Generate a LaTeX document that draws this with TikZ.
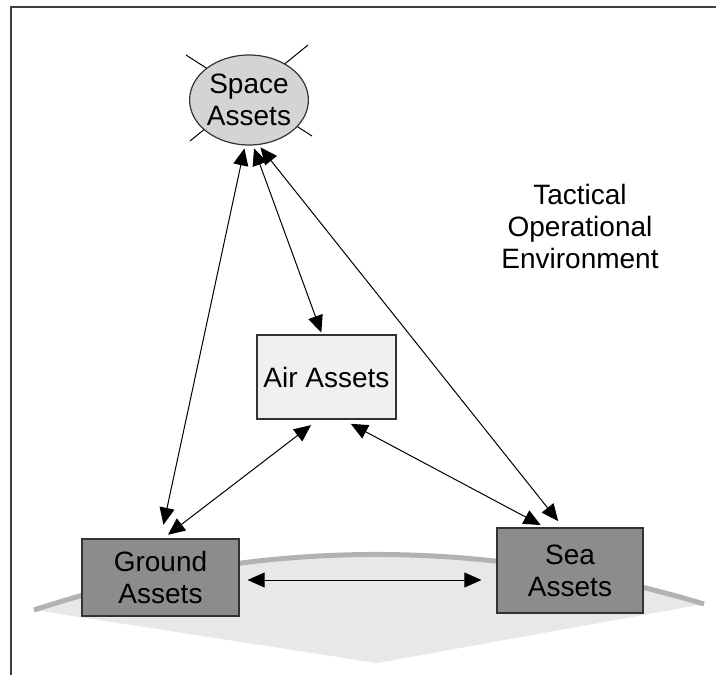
\documentclass[tikz,border=0pt]{standalone}
\usepackage{fontspec}
\setmainfont{Liberation Sans}
\usetikzlibrary{arrows.meta, shapes.geometric}

\tikzset{
  asset/.style={draw=black!80, line width=1.2pt, align=center, inner sep=0pt,
    font=\fontsize{28}{32}\selectfont},
  link/.style={{Triangle[length=17pt,width=15pt]}-{Triangle[length=17pt,width=15pt]},
    line width=1pt},
}

\begin{document}
\begin{tikzpicture}[x=1pt, y=-1pt]
    \useasboundingbox (0,0) rectangle (716,675);
    \def\horizon{(34,610) .. controls (257,537) and (481,537) .. (704,604)}

    % page frame
    \draw[line width=2pt, black!75] (10,7) -- (716,7);
    \draw[line width=2pt, black!75] (11,7) -- (11,675);

    % ground below the horizon
    \fill[black!9] \horizon -- (377,663) -- cycle;
    \draw[line width=5pt, black!30] \horizon;

    % rays behind the satellite
    \draw[line width=1pt] (186,55) -- (312,136);
    \draw[line width=1pt] (308,45) -- (190,141);

    \node[asset, ellipse, fill=black!17, minimum width=112pt, minimum height=90pt] (space) at (249,100) {Space\\Assets};
    \node[asset, fill=black!6, minimum width=139pt, minimum height=84pt] (air) at (326.5,377) {Air Assets};
    \node[asset, fill=black!45, minimum width=157pt, minimum height=77pt] (ground) at (160.5,577.5) {Ground\\Assets};
    \node[asset, fill=black!45, minimum width=146pt, minimum height=85pt] (sea) at (570,570.5) {Sea\\Assets};
    \node[align=center, font=\fontsize{28}{32}\selectfont] (env) at (580,226) {Tactical\\Operational\\Environment};

    \draw[link, shorten <=3pt, shorten >=14pt] (space.265) -- (ground.north);
    \draw[link, shorten <=3pt, shorten >=2pt] (space.275) -- (air.96);
    \draw[link, shorten <=3pt, shorten >=8pt] (space.282) -- (sea.99);
    \draw[link, shorten <=9pt, shorten >=6pt] (air.259) -- (ground.86);
    \draw[link, shorten <=9pt, shorten >=5pt] (air.291) -- (sea.120);
    \draw[link, shorten <=8pt, shorten >=15pt] ([yshift=-2.5pt]ground.east) -- ([yshift=-2.5pt]ground.east -| sea.west);
\end{tikzpicture}
\end{document}
